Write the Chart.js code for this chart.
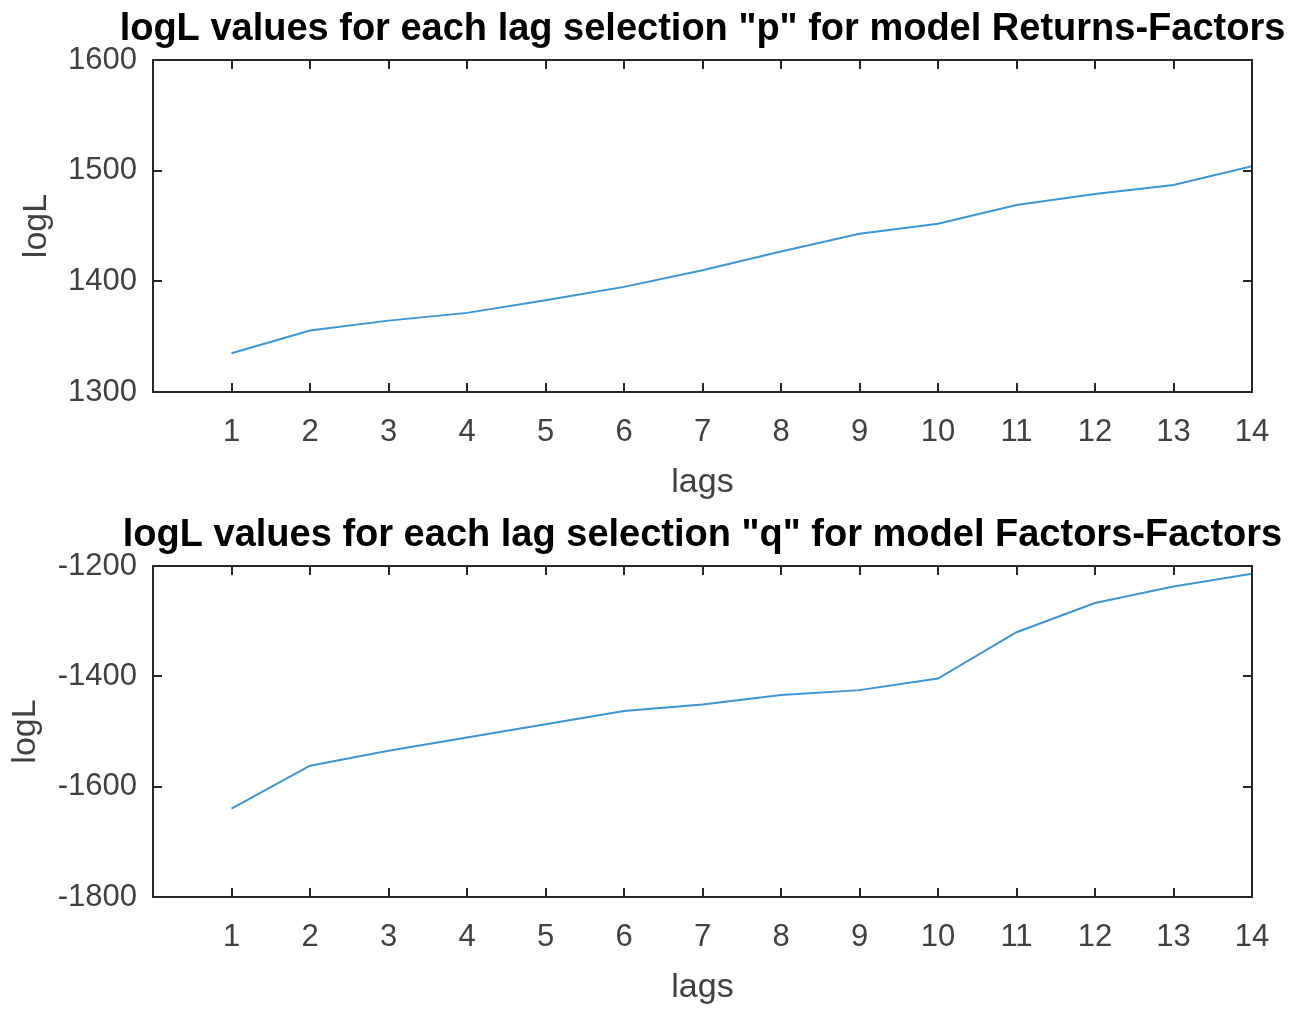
<!DOCTYPE html>
<html>
<head>
<meta charset="utf-8">
<script src="https://cdn.jsdelivr.net/npm/chart.js@4.4.0/dist/chart.umd.min.js"></script>
<style>
    html, body { margin: 0; padding: 0; background: #fff; overflow: hidden; }
    .box { position: absolute; left: 0; width: 1405px; height: 505px; }
</style>
</head>
<body>
<div class="box" style="top:0"><canvas id="pChart"></canvas></div>
<div class="box" style="top:505px"><canvas id="qChart"></canvas></div>
<script>
const lags = [1, 2, 3, 4, 5, 6, 7, 8, 9, 10, 11, 12, 13, 14];
const logLReturns = [1335, 1355.5, 1364.5, 1371.5, 1383, 1395, 1410, 1427, 1443, 1452, 1469, 1479, 1487, 1504];
const logLFactors = [-1640, -1562, -1535, -1511, -1487, -1463, -1451, -1434, -1425, -1404, -1320, -1267, -1237, -1214];
const pTicks = [1300, 1400, 1500, 1600];
const qTicks = [-1800, -1600, -1400, -1200];

const FONT = "'Liberation Sans', Arial, Helvetica, sans-serif";
const AXIS_COLOR = "#262626";
const TEXT_COLOR = "#404040";

// MATLAB style box with inward ticks on all four sides
const matlabBox = {
    id: "matlabBox",
    afterDraw(chart) {
        const { ctx, chartArea: a, scales: { x, y } } = chart;
        const len = 9;
        ctx.save();
        ctx.strokeStyle = AXIS_COLOR;
        ctx.lineWidth = 2;
        ctx.strokeRect(a.left, a.top, a.right - a.left, a.bottom - a.top);
        ctx.beginPath();
        x.ticks.forEach(function (t) {
            const px = Math.round(x.getPixelForValue(t.value));
            ctx.moveTo(px, a.bottom); ctx.lineTo(px, a.bottom - len);
            ctx.moveTo(px, a.top); ctx.lineTo(px, a.top + len);
        });
        y.ticks.forEach(function (t) {
            const py = Math.round(y.getPixelForValue(t.value));
            ctx.moveTo(a.left, py); ctx.lineTo(a.left + len, py);
            ctx.moveTo(a.right, py); ctx.lineTo(a.right - len, py);
        });
        ctx.stroke();
        ctx.restore();
    }
};

function makeChart(id, title, values, yTicks, padTop, yTitleTop) {
    return new Chart(document.getElementById(id), {
        type: "line",
        data: {
            datasets: [{
                data: lags.map(function (l, i) { return { x: l, y: values[i] }; }),
                borderColor: "#3b95d6",
                borderWidth: 2,
                pointRadius: 0,
                tension: 0,
                fill: false
            }]
        },
        options: {
            responsive: true,
            maintainAspectRatio: false,
            animation: false,
            layout: { padding: { top: padTop, left: 0, right: 0, bottom: 0 } },
            plugins: {
                legend: { display: false },
                tooltip: { enabled: false },
                title: {
                    display: true,
                    text: title,
                    color: "#000",
                    font: { family: FONT, size: 38, weight: "bold", lineHeight: 1.2 },
                    padding: { top: 7, bottom: 7.4 }
                }
            },
            scales: {
                x: {
                    type: "linear",
                    min: 0,
                    max: 14,
                    grid: { display: false },
                    border: { display: false },
                    afterBuildTicks: function (s) { s.ticks = lags.map(function (v) { return { value: v }; }); },
                    afterFit: function (s) { s.height = 113; },
                    ticks: {
                        autoSkip: false,
                        maxRotation: 0,
                        padding: 14,
                        color: TEXT_COLOR,
                        font: { family: FONT, size: 31 }
                    },
                    title: {
                        display: true,
                        text: "lags",
                        color: TEXT_COLOR,
                        font: { family: FONT, size: 34, lineHeight: 1.2 },
                        padding: { top: 0, bottom: 1.6 }
                    }
                },
                y: {
                    min: yTicks[0],
                    max: yTicks[yTicks.length - 1],
                    grid: { display: false },
                    border: { display: false },
                    afterBuildTicks: function (s) { s.ticks = yTicks.map(function (v) { return { value: v }; }); },
                    afterFit: function (s) { s.width = 153; },
                    ticks: {
                        padding: 8,
                        color: TEXT_COLOR,
                        font: { family: FONT, size: 31 },
                        callback: function (v) { return String(v); }
                    },
                    title: {
                        display: true,
                        text: "logL",
                        color: TEXT_COLOR,
                        font: { family: FONT, size: 34, lineHeight: 1.2 },
                        padding: { top: yTitleTop, bottom: 0 }
                    }
                },
                // empty right axis so the title is centred over the plot box
                yRight: {
                    position: "right",
                    display: true,
                    grid: { display: false },
                    border: { display: false },
                    ticks: { display: false },
                    afterFit: function (s) { s.width = 153; }
                }
            }
        },
        plugins: [matlabBox]
    });
}

makeChart("pChart", "logL values for each lag selection \"p\" for model Returns-Factors", logLReturns, pTicks, 0, 16);
makeChart("qChart", "logL values for each lag selection \"q\" for model Factors-Factors", logLFactors, qTicks, 1, 5);
</script>
</body>
</html>
